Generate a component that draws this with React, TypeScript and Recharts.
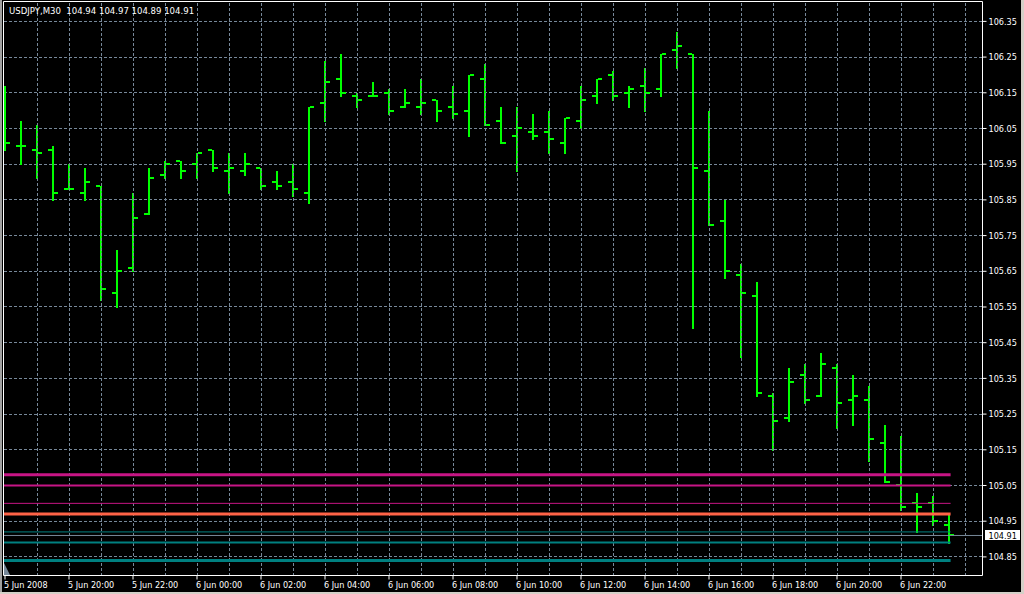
import { ComposedChart, Bar, XAxis, YAxis, CartesianGrid, ReferenceLine } from "recharts";

// USDJPY M30, 5 Jun 2008 18:00 .. 6 Jun 2008 23:30
const symbol = "USDJPY,M30";

const barTimes = [
  "5 Jun 18:00", "5 Jun 18:30", "5 Jun 19:00", "5 Jun 19:30", "5 Jun 20:00", "5 Jun 20:30",
  "5 Jun 21:00", "5 Jun 21:30", "5 Jun 22:00", "5 Jun 22:30", "5 Jun 23:00", "5 Jun 23:30",
  "6 Jun 00:00", "6 Jun 00:30", "6 Jun 01:00", "6 Jun 01:30", "6 Jun 02:00", "6 Jun 02:30",
  "6 Jun 03:00", "6 Jun 03:30", "6 Jun 04:00", "6 Jun 04:30", "6 Jun 05:00", "6 Jun 05:30",
  "6 Jun 06:00", "6 Jun 06:30", "6 Jun 07:00", "6 Jun 07:30", "6 Jun 08:00", "6 Jun 08:30",
  "6 Jun 09:00", "6 Jun 09:30", "6 Jun 10:00", "6 Jun 10:30", "6 Jun 11:00", "6 Jun 11:30",
  "6 Jun 12:00", "6 Jun 12:30", "6 Jun 13:00", "6 Jun 13:30", "6 Jun 14:00", "6 Jun 14:30",
  "6 Jun 15:00", "6 Jun 15:30", "6 Jun 16:00", "6 Jun 16:30", "6 Jun 17:00", "6 Jun 17:30",
  "6 Jun 18:00", "6 Jun 18:30", "6 Jun 19:00", "6 Jun 19:30", "6 Jun 20:00", "6 Jun 20:30",
  "6 Jun 21:00", "6 Jun 21:30", "6 Jun 22:00", "6 Jun 22:30", "6 Jun 23:00", "6 Jun 23:30",
];

const opens = [
  106.04, 106.0, 105.99, 105.99, 105.88, 105.87, 105.89, 105.59, 105.66, 105.81,
  105.92, 105.96, 105.95, 105.99, 105.93, 105.93, 105.94, 105.9, 105.9, 105.87,
  106.12, 106.19, 106.14, 106.14, 106.15, 106.11, 106.11, 106.13, 106.11, 106.1,
  106.19, 106.07, 106.03, 106.04, 106.04, 106.01, 106.07, 106.14, 106.2, 106.15,
  106.17, 106.16, 106.27, 106.26, 105.93, 105.79, 105.64, 105.58, 105.3, 105.24,
  105.36, 105.3, 105.38, 105.29, 105.29, 105.17, 105.05, 105.0, 105.0, 104.94,
];
const highs = [
  106.17, 106.07, 106.06, 106.0, 105.95, 105.94, 105.89, 105.71, 105.87, 105.94,
  105.96, 105.96, 105.98, 105.99, 105.98, 105.98, 105.94, 105.93, 105.95, 106.11,
  106.24, 106.26, 106.15, 106.18, 106.16, 106.16, 106.19, 106.13, 106.17, 106.2,
  106.23, 106.11, 106.11, 106.09, 106.1, 106.08, 106.17, 106.19, 106.21, 106.17,
  106.22, 106.26, 106.32, 106.26, 106.1, 105.85, 105.67, 105.62, 105.31, 105.38,
  105.39, 105.42, 105.39, 105.36, 105.33, 105.22, 105.19, 105.03, 105.02, 104.97,
];
const lows = [
  105.99, 105.95, 105.91, 105.85, 105.88, 105.85, 105.57, 105.55, 105.65, 105.81,
  105.91, 105.91, 105.91, 105.93, 105.87, 105.92, 105.88, 105.88, 105.86, 105.84,
  106.07, 106.14, 106.11, 106.14, 106.09, 106.11, 106.09, 106.07, 106.08, 106.03,
  106.06, 106.01, 105.93, 106.02, 105.98, 105.98, 106.05, 106.12, 106.13, 106.11,
  106.1, 106.14, 106.22, 105.49, 105.78, 105.63, 105.41, 105.3, 105.15, 105.23,
  105.28, 105.3, 105.21, 105.22, 105.12, 105.06, 104.98, 104.92, 104.94, 104.89,
];
const closes = [
  106.01, 106.0, 105.98, 105.87, 105.88, 105.9, 105.6, 105.65, 105.8, 105.91,
  105.95, 105.93, 105.98, 105.94, 105.94, 105.95, 105.89, 105.89, 105.88, 106.11,
  106.18, 106.15, 106.13, 106.14, 106.1, 106.12, 106.12, 106.1, 106.09, 106.2,
  106.06, 106.01, 106.05, 106.03, 106.02, 106.08, 106.13, 106.19, 106.14, 106.16,
  106.15, 106.26, 106.28, 105.94, 105.78, 105.65, 105.59, 105.31, 105.23, 105.34,
  105.29, 105.39, 105.28, 105.3, 105.18, 105.06, 104.99, 104.99, 104.95, 104.91,
];

const axisTickBars = [0, 4, 8, 12, 16, 20, 24, 28, 32, 36, 40, 44, 48, 52, 56];
const axisLabels = [
  "5 Jun 2008", "5 Jun 20:00", "5 Jun 22:00", "6 Jun 00:00", "6 Jun 02:00",
  "6 Jun 04:00", "6 Jun 06:00", "6 Jun 08:00", "6 Jun 10:00", "6 Jun 12:00",
  "6 Jun 14:00", "6 Jun 16:00", "6 Jun 18:00", "6 Jun 20:00", "6 Jun 22:00",
];
const hourGridBars = [
  2, 4, 6, 8, 10, 12, 14, 16, 18, 20, 22, 24, 26, 28, 30,
  32, 34, 36, 38, 40, 42, 44, 46, 48, 50, 52, 54, 56, 58, 60,
];
const priceTicks = [
  104.85, 104.95, 105.05, 105.15, 105.25, 105.35, 105.45, 105.55,
  105.65, 105.75, 105.85, 105.95, 106.05, 106.15, 106.25, 106.35,
];

// horizontal objects drawn on the chart
const levelPrices = [105.08, 105.05, 105.0, 104.97, 104.92, 104.89, 104.84];
const levelStyles = [
  { color: "#C71585", width: 3 },
  { color: "#C71585", width: 2 },
  { color: "#C71585", width: 1 },
  { color: "#FF6347", width: 3 },
  { color: "#008080", width: 1 },
  { color: "#008080", width: 2 },
  { color: "#008080", width: 3 },
];

const GREEN = "#00FF00";
const GRID = "#778899";
const FONT = "'DejaVu Sans Condensed', 'Liberation Sans Narrow', 'Liberation Sans', sans-serif";

const xDomain: [number, number] = [-0.09375, 61.09375];
const yDomain: [number, number] = [104.7979, 106.4057];

const data = barTimes.map((time, i) => ({
  i,
  time,
  open: opens[i],
  high: highs[i],
  low: lows[i],
  close: closes[i],
  range: [lows[i], highs[i]],
}));

const last = data[data.length - 1];

function OhlcBar(props: any) {
  const { x, y, width, height, payload } = props;
  const cx = x + width / 2;
  const top = Math.min(y, y + height);
  const span = Math.abs(height);
  const at = (v: number) => top + ((payload.high - v) / (payload.high - payload.low)) * span;
  const yo = at(payload.open);
  const yc = at(payload.close);
  return (
    <g fill={GREEN} shapeRendering="crispEdges">
      <rect x={cx - 1} y={top} width={2} height={span + 1} />
      <rect x={cx - 5} y={yo - 1} width={4} height={2} />
      <rect x={cx + 1} y={yc - 1} width={4} height={2} />
    </g>
  );
}

function TimeTick(props: any) {
  const { x, y, payload } = props;
  const label = axisLabels[axisTickBars.indexOf(payload.value)];
  return (
    <text x={x - 1} y={y} dy="0.71em" fill="#fff" fontSize={9} fontFamily={FONT} textAnchor="start">
      {label}
    </text>
  );
}

function PriceTag(props: any) {
  const { viewBox } = props;
  const right = viewBox.x + viewBox.width;
  return (
    <g>
      <rect x={right + 2} y={viewBox.y - 5} width={35} height={10} fill="#fff" shapeRendering="crispEdges" />
      <text x={right + 6} y={viewBox.y} dy="0.355em" fill="#000" fontSize={9} fontFamily={FONT}>
        {last.close.toFixed(2)}
      </text>
    </g>
  );
}

export default function App() {
  const header = `${symbol}  ${last.open.toFixed(2)} ${last.high.toFixed(2)} ${last.low.toFixed(2)} ${last.close.toFixed(2)}`;
  return (
    <div style={{ position: "fixed", left: 0, top: 0, width: 1024, height: 594, background: "#000" }}>
      <ComposedChart
        width={1024}
        height={594}
        data={data}
        margin={{ top: 1.5, left: 3.5, right: 0, bottom: 0 }}
      >
        <CartesianGrid vertical={false} stroke={GRID} strokeDasharray="3 2" shapeRendering="crispEdges" />
        {hourGridBars.map((b) => (
          <ReferenceLine key={"g" + b} x={b} stroke={GRID} strokeDasharray="3 2" shapeRendering="crispEdges" />
        ))}
        <XAxis
          dataKey="i"
          type="number"
          domain={xDomain}
          allowDataOverflow
          ticks={axisTickBars}
          interval={0}
          height={18.5}
          stroke="#fff"
          tickSize={4}
          tickMargin={2}
          tick={<TimeTick />}
        />
        <YAxis
          orientation="right"
          type="number"
          domain={yDomain}
          allowDataOverflow
          ticks={priceTicks}
          interval={0}
          width={41.5}
          stroke="#fff"
          tickSize={4}
          tickMargin={2}
          tickFormatter={(v: number) => v.toFixed(2)}
          tick={{ fill: "#fff", fontSize: 9, fontFamily: FONT, textAnchor: "start" }}
        />
        {levelPrices.map((p, k) => (
          <ReferenceLine
            key={"l" + k}
            segment={[
              { x: xDomain[0], y: p },
              { x: last.i + 0.1, y: p },
            ]}
            stroke={levelStyles[k].color}
            strokeWidth={levelStyles[k].width}
            ifOverflow="visible"
          />
        ))}
        <ReferenceLine y={last.close} stroke={GRID} label={<PriceTag />} />
        <Bar dataKey="range" barSize={10} isAnimationActive={false} shape={<OhlcBar />} activeBar={false} />
        <ReferenceLine y={yDomain[1]} stroke="#fff" ifOverflow="visible" />
        <ReferenceLine x={xDomain[0]} stroke="#fff" ifOverflow="visible" />
      </ComposedChart>
      <svg
        width={1024}
        height={594}
        style={{ position: "absolute", left: 0, top: 0, pointerEvents: "none" }}
      >
        <rect x={0} y={0} width={2} height={594} fill="#a0a0a0" />
        <rect x={1021} y={0} width={3} height={594} fill="#d4d0c8" />
        <rect x={0} y={592} width={1024} height={2} fill="#d4d0c8" />
        <polygon points="4,563 4,575 10,575" fill={GRID} />
        <text x={9} y={14} fill="#fff" fontSize={9.5} fontFamily={FONT} style={{ whiteSpace: "pre" }}>
          {header}
        </text>
      </svg>
    </div>
  );
}
